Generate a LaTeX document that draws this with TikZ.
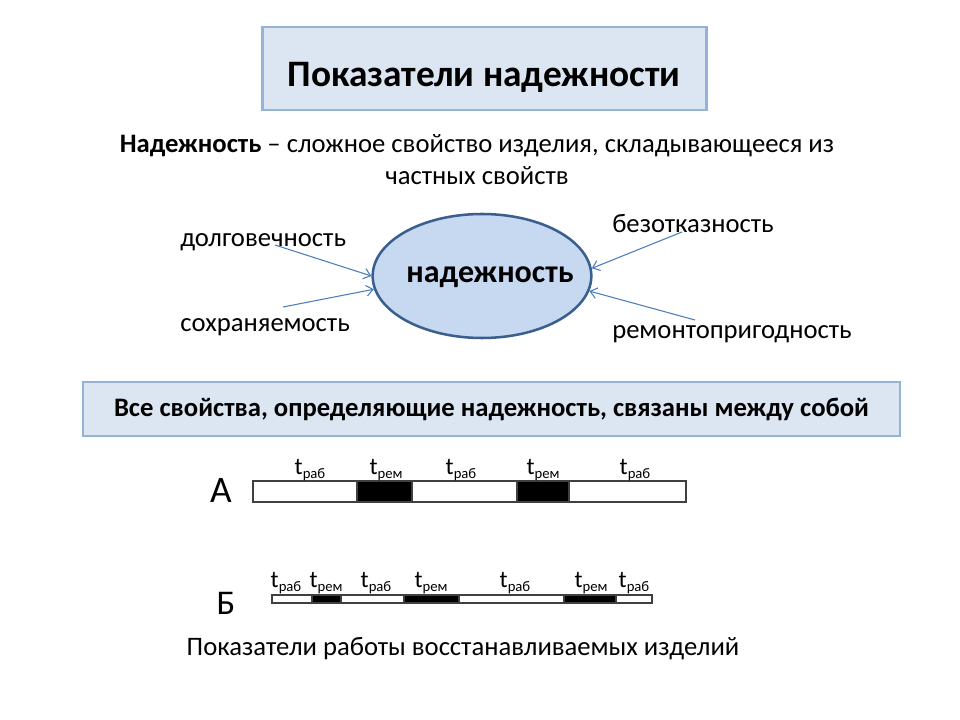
\documentclass[tikz,border=0pt]{standalone}
\usepackage{fontspec}
\setmainfont{Carlito}
\usetikzlibrary{shapes.geometric,arrows.meta}

\definecolor{kastenblau}{HTML}{DCE6F2}
\definecolor{kastenrand}{HTML}{95B3D7}
\definecolor{ellipsenblau}{HTML}{C6D9F1}
\definecolor{ellipsenrand}{HTML}{3A5F8E}
\definecolor{pfeilblau}{HTML}{4A7EBB}
\definecolor{balkenrand}{HTML}{404040}

\newcommand{\tsub}[1]{t\raisebox{-3.5pt}{\fontsize{11}{11}\selectfont #1}}

\begin{document}
\begin{tikzpicture}[x=0.75pt,y=-0.75pt,
	kasten/.style={draw=kastenrand, line width=1.8pt, fill=kastenblau, inner sep=0pt},
	eigenschaft/.style={anchor=base west, inner sep=0pt, font=\fontsize{20}{24}\selectfont},
	pfeil/.style={-{Straight Barb[length=5pt,width=8pt]}, draw=pfeilblau, line width=0.8pt},
	zeit/.style={anchor=base, inner sep=0pt, font=\fontsize{18}{20}\selectfont},
	balken/.style={draw=balkenrand, line width=1pt, fill=white},
	reparatur/.style={draw=balkenrand, line width=1pt, fill=black}]
	
	\useasboundingbox (0,0) rectangle (960,720);
	
	% Titel
	\node (titel) [kasten, minimum width=333pt, minimum height=62pt] at (484.5,68.5) {};
	\node (titeltext) [anchor=base, inner sep=0pt, font=\bfseries\fontsize{28}{32}\selectfont] at (484,87) {Показатели надежности};
	
	% Definition
	\node (def) [align=center, font=\fontsize{20}{24}\selectfont] at (477,160) {\textbf{Надежность} – сложное свойство изделия, складывающееся из\\частных свойств};
	
	% Ellipse
	\node (nad) [ellipse, draw=ellipsenrand, line width=1.9pt, fill=ellipsenblau, minimum width=164pt, minimum height=93pt, inner sep=0pt] at (482,276) {};
	\node (nadtext) [inner sep=0pt, font=\bfseries\fontsize{24}{28}\selectfont] at (490,277) {надежность};
	
	% Eigenschaften
	\node (dolg) [eigenschaft] at (180,247) {долговечность};
	\node (sohr) [eigenschaft] at (180,331) {сохраняемость};
	\node (bezo) [eigenschaft] at (612,233) {безотказность};
	\node (remo) [eigenschaft] at (612,338) {ремонтопригодность};
	
	% Pfeile
	\coordinate (dolg-a) at (275,245);
	\coordinate (sohr-a) at (283,307);
	\coordinate (bezo-a) at (682,232);
	\coordinate (remo-a) at (695,320);
	\draw[pfeil] (dolg-a) -- (nad.180);
	\draw[pfeil] (sohr-a) -- (nad.187);
	\draw[pfeil] (bezo-a) -- (nad.4);
	\draw[pfeil] (remo-a) -- (nad.352);
	
	% Zusammenhang
	\node (info) [kasten, minimum width=613pt, minimum height=40.5pt, font=\bfseries\fontsize{20}{24}\selectfont] at (491.5,409) {Все свойства, определяющие надежность, связаны между собой};
	
	% Zeitachse A
	\node (a) [anchor=base, inner sep=0pt, font=\fontsize{28}{30}\selectfont] at (221,502) {А};
	\draw[balken] (253,481) rectangle (686,502);
	\foreach \x/\y in {357/412, 517/569}
		\draw[reparatur] (\x,481) rectangle (\y,502);
	\foreach \x/\s [count=\i] in {310/раб, 386/рем, 461/раб, 543/рем, 635/раб}
		\node (ta\i) [zeit] at (\x,474) {\tsub{\s}};
	
	% Zeitachse B
	\node (b) [anchor=base, inner sep=0pt, font=\fontsize{26}{28}\selectfont] at (226,614) {Б};
	\draw[balken] (272,595) rectangle (652,603);
	\foreach \x/\y in {312/341, 404/459, 564/616}
		\draw[reparatur] (\x,595) rectangle (\y,603);
	\foreach \x/\s [count=\i] in {286/раб, 326/рем, 376/раб, 431/рем, 515/раб, 591/рем, 634/раб}
		\node (tb\i) [zeit] at (\x,587) {\tsub{\s}};
	
	% Unterschrift
	\node (unter) [anchor=base, font=\fontsize{20}{24}\selectfont] at (463,655) {Показатели работы восстанавливаемых изделий};
	
\end{tikzpicture}
\end{document}
